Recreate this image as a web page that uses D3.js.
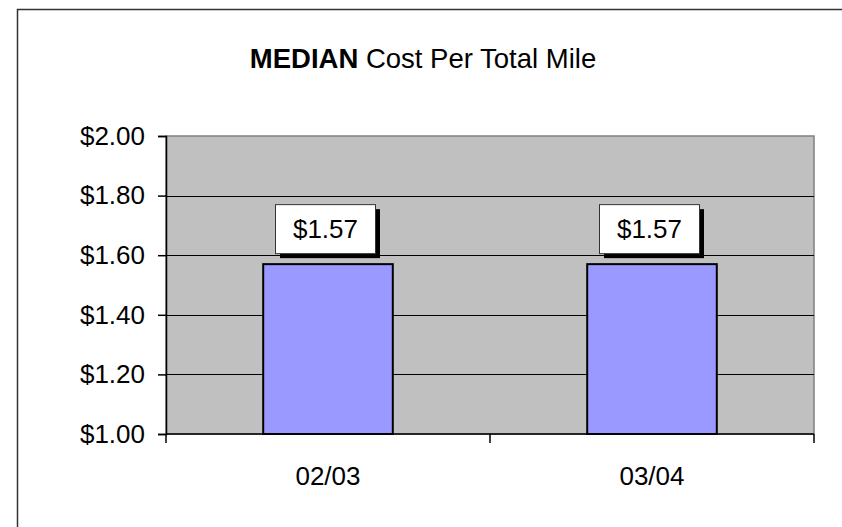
<!DOCTYPE html>
<html>
<head>
<meta charset="utf-8">
<script src="https://cdn.jsdelivr.net/npm/d3@7"></script>
<style>
  html, body { margin: 0; padding: 0; background: #ffffff; }
  svg { display: block; font-family: Arial, "Liberation Sans", sans-serif; }
</style>
</head>
<body>
<svg id="chart" width="842" height="527"></svg>
<script>
// Fiscal years and median cost per total mile (dollars)
const categories = ["02/03", "03/04"];
const medianCost = [1.57, 1.57];
const yTicks = [1.0, 1.2, 1.4, 1.6, 1.8, 2.0];
const titleBold = "MEDIAN";
const titleRest = " Cost Per Total Mile";

const svg = d3.select("#chart");
const W = 842, H = 527;
const plot = { left: 166, top: 136, right: 814, bottom: 434 };
const fontSize = 26;

// Chart frame
svg.append("rect")
  .attr("x", 17.5).attr("y", 9.5)
  .attr("width", W + 20).attr("height", H + 20)
  .attr("fill", "#ffffff")
  .attr("stroke", "#333333")
  .attr("stroke-width", 1.5);

// Title
const title = svg.append("text")
  .attr("x", 423).attr("y", 68)
  .attr("text-anchor", "middle")
  .attr("font-size", 27.5)
  .attr("fill", "#000");
title.append("tspan").attr("font-weight", "bold").text(titleBold);
title.append("tspan").text(titleRest);

// Scales
const x = d3.scaleBand()
  .domain(categories)
  .range([plot.left, plot.right])
  .paddingInner(0.6)
  .paddingOuter(0.3);
const band = d3.scaleBand().domain(categories).range([plot.left, plot.right]);
const y = d3.scaleLinear().domain([1.0, 2.0]).range([plot.bottom, plot.top]);

// Plot area
svg.append("rect")
  .attr("x", plot.left).attr("y", plot.top)
  .attr("width", plot.right - plot.left)
  .attr("height", plot.bottom - plot.top)
  .attr("fill", "#c0c0c0")
  .attr("stroke", "#808080")
  .attr("stroke-width", 1.5);

// Gridlines
svg.append("g")
  .selectAll("line")
  .data(yTicks.filter(d => d > 1.0 && d < 2.0))
  .join("line")
  .attr("x1", plot.left).attr("x2", plot.right)
  .attr("y1", d => Math.round(y(d)) + 0.5)
  .attr("y2", d => Math.round(y(d)) + 0.5)
  .attr("stroke", "#000")
  .attr("stroke-width", 1);

// Y axis
const yAxis = svg.append("g")
  .attr("transform", `translate(${plot.left},0)`)
  .call(d3.axisLeft(y)
    .tickValues(yTicks)
    .tickSize(8)
    .tickPadding(13)
    .tickFormat(d => "$" + d.toFixed(2)));
yAxis.select(".domain").attr("stroke", "#000").attr("stroke-width", 1.5);
yAxis.selectAll(".tick line").attr("stroke", "#000").attr("stroke-width", 1.5);
yAxis.selectAll(".tick text")
  .attr("font-size", fontSize)
  .attr("font-family", "Arial, 'Liberation Sans', sans-serif")
  .attr("fill", "#000");

// X axis: ticks on category boundaries
const xAxisG = svg.append("g");
xAxisG.append("line")
  .attr("x1", plot.left).attr("x2", plot.right)
  .attr("y1", plot.bottom).attr("y2", plot.bottom)
  .attr("stroke", "#000").attr("stroke-width", 1.5);
const boundaries = categories.map(c => band(c)).concat([band(categories[categories.length - 1]) + band.bandwidth()]);
xAxisG.selectAll("line.tick")
  .data(boundaries)
  .join("line")
  .attr("class", "tick")
  .attr("x1", d => d).attr("x2", d => d)
  .attr("y1", plot.bottom).attr("y2", plot.bottom + 9)
  .attr("stroke", "#000").attr("stroke-width", 1.5);
xAxisG.selectAll("text")
  .data(categories)
  .join("text")
  .attr("x", d => band(d) + band.bandwidth() / 2)
  .attr("y", 485)
  .attr("text-anchor", "middle")
  .attr("font-size", fontSize)
  .attr("fill", "#000")
  .text(d => d);

// Bars
const data = categories.map((c, i) => ({ cat: c, value: medianCost[i] }));
svg.append("g")
  .selectAll("rect")
  .data(data)
  .join("rect")
  .attr("x", d => x(d.cat))
  .attr("y", d => y(d.value))
  .attr("width", x.bandwidth())
  .attr("height", d => y(1.0) - y(d.value))
  .attr("fill", "#9999ff")
  .attr("stroke", "#000")
  .attr("stroke-width", 2);

// Value labels with drop shadow
const boxW = 100, boxH = 49, shadow = 5;
const labels = svg.append("g")
  .selectAll("g")
  .data(data)
  .join("g")
  .attr("transform", d => {
    const cx = x(d.cat) + x.bandwidth() / 2 - 3;
    const top = y(d.value) - 11 - boxH;
    return `translate(${cx - boxW / 2},${top})`;
  });
labels.append("rect")
  .attr("x", shadow).attr("y", shadow)
  .attr("width", boxW).attr("height", boxH)
  .attr("fill", "#000");
labels.append("rect")
  .attr("x", 0.5).attr("y", 0.5)
  .attr("width", boxW).attr("height", boxH)
  .attr("fill", "#fff")
  .attr("stroke", "#333")
  .attr("stroke-width", 1);
labels.append("text")
  .attr("x", boxW / 2 + 0.5)
  .attr("y", boxH / 2 + 9.5)
  .attr("text-anchor", "middle")
  .attr("font-size", fontSize)
  .attr("fill", "#000")
  .text(d => "$" + d.value.toFixed(2));
</script>
</body>
</html>
